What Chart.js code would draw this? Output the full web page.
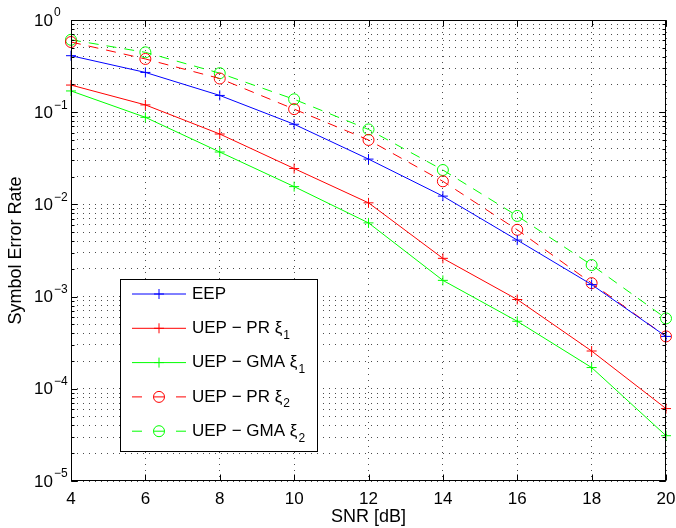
<!DOCTYPE html>
<html>
<head>
<meta charset="utf-8">
<script src="https://cdn.jsdelivr.net/npm/chart.js@4.4.1/dist/chart.umd.min.js"></script>
<style>
  body { margin: 0; background: #fff; }
  #wrap { width: 676px; height: 528px; }
</style>
</head>
<body>
<div id="wrap"><canvas id="ser" width="676" height="528"></canvas></div>
<script>
// SNR points (dB)
const snr = [4, 6, 8, 10, 12, 14, 16, 18, 20];

// symbol error rate per scheme
const eep     = [0.41, 0.27, 0.152, 0.074, 0.031, 0.0123, 0.0041, 0.00135, 0.00037];
const uepPr1  = [0.197, 0.12, 0.058, 0.0245, 0.0104, 0.0026, 0.00093, 0.000257, 0.000061];
const uepGma1 = [0.17, 0.088, 0.037, 0.0156, 0.0063, 0.0015, 0.00054, 0.00017, 0.000031];
const uepPr2  = [0.577, 0.378, 0.232, 0.108, 0.050, 0.0178, 0.0053, 0.0014, 0.00037];
const uepGma2 = [0.61, 0.446, 0.265, 0.138, 0.065, 0.0236, 0.0075, 0.0022, 0.00058];

// legend text: base name + subscript
const seriesNames = ['EEP', 'UEP \u2212 PR \u03BE', 'UEP \u2212 GMA \u03BE', 'UEP \u2212 PR \u03BE', 'UEP \u2212 GMA \u03BE'];
const seriesSubs = ['', '1', '1', '2', '2'];

// y axis decade exponents for the tick labels
const decadeExps = [0, -1, -2, -3, -4, -5];

const FONT = '"Liberation Sans", Arial, Helvetica, sans-serif';

const toPoints = vals => snr.map((s, i) => ({ x: s, y: vals[i] }));

function series(idx, vals, color, dashed) {
    return {
        label: seriesNames[idx] + seriesSubs[idx],
        data: toPoints(vals),
        borderColor: color,
        backgroundColor: 'rgba(0,0,0,0)',
        borderWidth: 1,
        borderDash: dashed ? [10, 8] : [],
        pointStyle: dashed ? 'circle' : 'cross',
        pointRadius: dashed ? 5.5 : 5,
        pointBorderColor: color,
        pointBackgroundColor: 'rgba(0,0,0,0)',
        pointBorderWidth: 1,
        tension: 0,
        clip: false
    };
}

// MATLAB style box, inward ticks, y tick labels with exponents and the legend
const matlabAxes = {
    id: 'matlabAxes',
    afterDatasetsDraw(chart) {
        const { ctx, chartArea: a, scales: { x, y } } = chart;
        const L = Math.round(a.left) + 0.5, R = Math.round(a.right) - 0.5;
        const T = Math.round(a.top) + 0.5, B = Math.round(a.bottom) - 0.5;
        ctx.save();
        ctx.strokeStyle = '#000';
        ctx.lineWidth = 1;
        ctx.setLineDash([]);
        ctx.strokeRect(L, T, R - L, B - T);

        ctx.beginPath();
        x.ticks.forEach(t => {
            const px = Math.round(x.getPixelForValue(t.value)) + 0.5;
            ctx.moveTo(px, B); ctx.lineTo(px, B - 6);
            ctx.moveTo(px, T); ctx.lineTo(px, T + 6);
        });
        y.ticks.forEach(t => {
            const py = Math.round(y.getPixelForValue(t.value)) + 0.5;
            const len = t.major ? 6 : 3;
            ctx.moveTo(L, py); ctx.lineTo(L + len, py);
            ctx.moveTo(R, py); ctx.lineTo(R - len, py);
        });
        ctx.stroke();

        // y tick labels: 10 with superscript exponent
        ctx.fillStyle = '#000';
        decadeExps.forEach(e => {
            const py = y.getPixelForValue(Math.pow(10, e));
            ctx.font = '17px ' + FONT;
            ctx.textAlign = 'right';
            ctx.textBaseline = 'middle';
            ctx.fillText('10', 53, py + 1);
            ctx.font = '12px ' + FONT;
            ctx.textAlign = 'left';
            ctx.fillText(e === 0 ? '0' : '\u2212' + Math.abs(e), 54, py - 7);
        });

        // legend
        const bx = 120.5, by = 279.5, bw = 197, bh = 172;
        ctx.fillStyle = '#fff';
        ctx.fillRect(bx, by, bw, bh);
        ctx.strokeStyle = '#000';
        ctx.strokeRect(bx, by, bw, bh);
        chart.data.datasets.forEach((ds, i) => {
            const ry = 294 + i * 34.3;
            ctx.strokeStyle = ds.borderColor;
            ctx.lineWidth = 1;
            ctx.beginPath();
            if (ds.pointStyle === 'circle') {
                ctx.moveTo(132, ry); ctx.lineTo(142, ry);
                ctx.moveTo(176, ry); ctx.lineTo(186, ry);
                ctx.stroke();
                ctx.beginPath();
                ctx.arc(159, ry, 5.5, 0, Math.PI * 2);
                ctx.moveTo(153.5, ry); ctx.lineTo(164.5, ry);
                ctx.stroke();
            } else {
                ctx.moveTo(132, ry); ctx.lineTo(186, ry);
                ctx.moveTo(154, ry); ctx.lineTo(164, ry);
                ctx.moveTo(159, ry - 5); ctx.lineTo(159, ry + 5);
                ctx.stroke();
            }
            ctx.fillStyle = '#000';
            ctx.font = '17px ' + FONT;
            ctx.textAlign = 'left';
            ctx.textBaseline = 'middle';
            ctx.fillText(seriesNames[i], 192, ry);
            if (seriesSubs[i]) {
                const w = ctx.measureText(seriesNames[i]).width;
                ctx.font = '12px ' + FONT;
                ctx.fillText(seriesSubs[i], 192 + w + 1, ry + 7);
            }
        });
        ctx.restore();
    }
};

new Chart(document.getElementById('ser'), {
    type: 'line',
    data: {
        datasets: [
            series(0, eep, '#0000ff', false),
            series(1, uepPr1, '#ff0000', false),
            series(2, uepGma1, '#00ff00', false),
            series(3, uepPr2, '#ff0000', true),
            series(4, uepGma2, '#00ff00', true)
        ]
    },
    options: {
        responsive: false,
        animation: false,
        layout: { padding: { top: 20, right: 0, left: 0, bottom: 0 } },
        plugins: {
            legend: { display: false },
            tooltip: { enabled: false }
        },
        scales: {
            x: {
                type: 'linear',
                min: 4,
                max: 20,
                afterFit: scale => {
                    scale.height = 47;
                    scale.paddingRight = 10; // keep the plot box out to x=666
                    scale.paddingLeft = 0;
                },
                ticks: {
                    stepSize: 2,
                    color: '#000',
                    padding: 8,
                    font: { size: 17, family: FONT }
                },
                grid: { color: 'rgba(0,0,0,0.7)', drawTicks: false },
                border: { display: false, dash: [1, 5] },
                title: {
                    display: true,
                    text: 'SNR [dB]',
                    color: '#000',
                    padding: { top: 0, bottom: 0 },
                    font: { size: 18, family: FONT }
                }
            },
            y: {
                type: 'logarithmic',
                min: 1e-5,
                max: 1,
                afterFit: scale => { scale.width = 71; },
                afterBuildTicks: scale => {
                    const ticks = [];
                    for (let e = -5; e <= 0; e++) {
                        for (let m = 1; m <= 9; m++) {
                            const v = m * Math.pow(10, e);
                            if (v <= 1) ticks.push({ value: v, major: m === 1 });
                        }
                    }
                    scale.ticks = ticks;
                },
                ticks: { display: false, autoSkip: false },
                grid: { color: 'rgba(0,0,0,0.7)', drawTicks: false },
                border: { display: false, dash: [1, 5] },
                title: {
                    display: true,
                    text: 'Symbol Error Rate',
                    color: '#000',
                    padding: { top: 5, bottom: 0 },
                    font: { size: 18, family: FONT }
                }
            }
        }
    },
    plugins: [matlabAxes]
});
</script>
</body>
</html>
